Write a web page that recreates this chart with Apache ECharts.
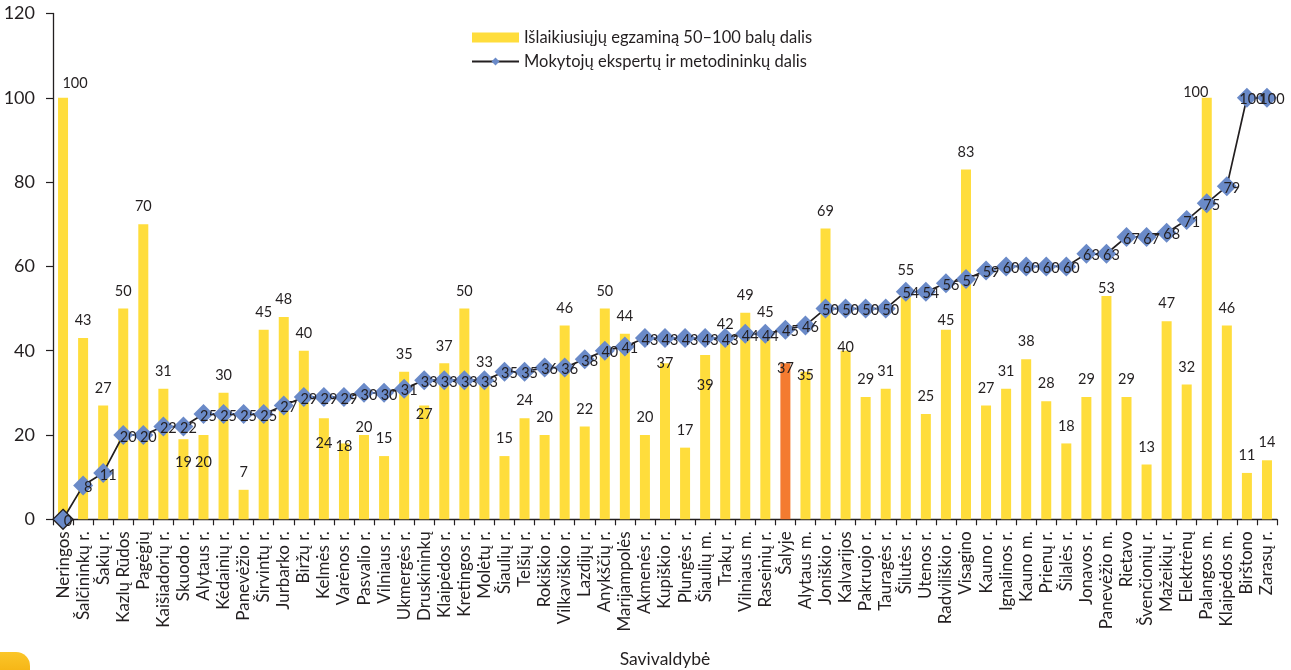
<!DOCTYPE html>
<html>
<head>
<meta charset="utf-8">
<script src="https://cdn.jsdelivr.net/npm/echarts@6/dist/echarts.min.js"></script>
<style>
html,body{margin:0;padding:0;background:#fff;}
#chart{width:1291px;height:670px;}
</style>
</head>
<body>
<div id="chart"></div>
<script>
const categories = ["Neringos","Šalčininkų r.","Šakių r.","Kazlų Rūdos","Pagėgių","Kaišiadorių r.","Skuodo r.","Alytaus r.","Kėdainių r.","Panevėžio r.","Širvintų r.","Jurbarko r.","Biržų r.","Kelmės r.","Varėnos r.","Pasvalio r.","Vilniaus r.","Ukmergės r.","Druskininkų","Klaipėdos r.","Kretingos r.","Molėtų r.","Šiaulių r.","Telšių r.","Rokiškio r.","Vilkaviškio r.","Lazdijų r.","Anykščių r.","Marijampolės","Akmenės r.","Kupiškio r.","Plungės r.","Šiaulių m.","Trakų r.","Vilniaus m.","Raseinių r.","Šalyje","Alytaus m.","Joniškio r.","Kalvarijos","Pakruojo r.","Tauragės r.","Šilutės r.","Utenos r.","Radviliškio r.","Visagino","Kauno r.","Ignalinos r.","Kauno m.","Prienų r.","Šilalės r.","Jonavos r.","Panevėžio m.","Rietavo","Švenčionių r.","Mažeikių r.","Elektrėnų","Palangos m.","Klaipėdos m.","Birštono","Zarasų r."];

const passedShare = [100,43,27,50,70,31,19,20,30,7,45,48,40,24,18,20,15,35,27,37,50,33,15,24,20,46,22,50,44,20,37,17,39,42,49,45,37,35,69,40,29,31,55,25,45,83,27,31,38,28,18,29,53,29,13,47,32,100,46,11,14];

const expertShare = [0,8,11,20,20,22,22,25,25,25,25,27,29,29,29,30,30,31,33,33,33,33,35,35,36,36,38,40,41,43,43,43,43,43,44,44,45,46,50,50,50,50,54,54,56,57,59,60,60,60,60,63,63,67,67,68,71,75,79,100,100];

const yTicks = [0,20,40,60,80,100,120];

const seriesNames = ["Išlaikiusiųjų egzaminą 50–100 balų dalis","Mokytojų ekspertų ir metodininkų dalis"];
const axisTitle = "Savivaldybė";
const highlightCategory = "Šalyje";

// label nudges (pixels) to mimic the hand-placed labels of the original
const barLabelNudge = {
  "Neringos":[12,3],"Skuodo r.":[0,41],"Alytaus r.":[0,45],"Kelmės r.":[0,43],"Varėnos r.":[0,20],
  "Pasvalio r.":[0,10],"Druskininkų":[0,26],"Kupiškio r.":[0,17],"Šiaulių m.":[0,48],"Šalyje":[0,22],
  "Alytaus m.":[0,21],"Kalvarijos":[0,14],"Radviliškio r.":[0,8],"Panevėžio m.":[0,10],"Palangos m.":[-11,12]
};

const TXT = '#231F20';
const FONT = 'Lato';

const barData = passedShare.map((v,i)=>{
  const item = {value:v};
  if (categories[i] === highlightCategory) item.itemStyle = {color:'#F47B30'};
  const n = barLabelNudge[categories[i]];
  if (n) item.label = {offset:n};
  return item;
});
const lineData = expertShare.map((v,i)=>{
  const item = {value:v};
  if (i === 0) item.itemStyle = {color:'#6A8AC8', borderColor:'#231F20', borderWidth:1.3};
  return item;
});

const chart = echarts.init(document.getElementById('chart'), null, {renderer:'canvas'});
chart.setOption({
  animation:false,
  textStyle:{fontFamily:FONT,color:TXT},
  grid:{left:53,right:14,top:13.5,bottom:150.7,containLabel:false,outerBoundsMode:'none'},
  legend:{
    orient:'vertical', left:466, top:24, itemWidth:47, itemHeight:10, itemGap:7,
    textStyle:{fontFamily:FONT,fontSize:16.5,color:TXT},
    data:[{name:seriesNames[0],icon:'rect'},{name:seriesNames[1]}]
  },
  xAxis:{
    type:'category', data:categories, boundaryGap:true,
    name:axisTitle, nameLocation:'middle', nameGap:131,
    nameTextStyle:{fontFamily:FONT,fontSize:17.5,color:TXT},
    axisLine:{lineStyle:{color:TXT,width:1.3}},
    axisTick:{show:true,length:6,lineStyle:{color:TXT,width:1.2}},
    axisLabel:{interval:0,rotate:90,margin:12,fontFamily:FONT,fontSize:17,color:TXT}
  },
  yAxis:{
    type:'value', min:yTicks[0], max:yTicks[yTicks.length-1], interval:20,
    splitLine:{show:false},
    axisLine:{show:true,lineStyle:{color:TXT,width:1.3}},
    axisTick:{show:true,length:7,lineStyle:{color:TXT,width:1.2}},
    axisLabel:{margin:18,fontFamily:FONT,fontSize:18,color:TXT}
  },
  series:[
    {
      name:seriesNames[0], type:'bar', data:barData, barWidth:10,
      itemStyle:{color:'#FFDD3C'},
      label:{show:true,position:'top',distance:10,fontFamily:FONT,fontSize:14.5,color:TXT},
      z:2
    },
    {
      name:seriesNames[1], type:'line', data:lineData,
      symbol:'diamond', symbolSize:20,
      itemStyle:{color:'#6A8AC8'},
      lineStyle:{color:TXT,width:1.7},
      label:{show:true,position:'inside',offset:[5,2],fontFamily:FONT,fontSize:14.5,color:TXT},
      z:3
    }
  ],
  graphic:[{
    type:'rect', left:-20, top:652, shape:{width:50,height:40,r:14},
    style:{fill:new echarts.graphic.LinearGradient(0,0,0,1,[{offset:0,color:'#FBC62A'},{offset:1,color:'#F0A400'}])},
    silent:true
  }]
});
</script>
</body>
</html>
